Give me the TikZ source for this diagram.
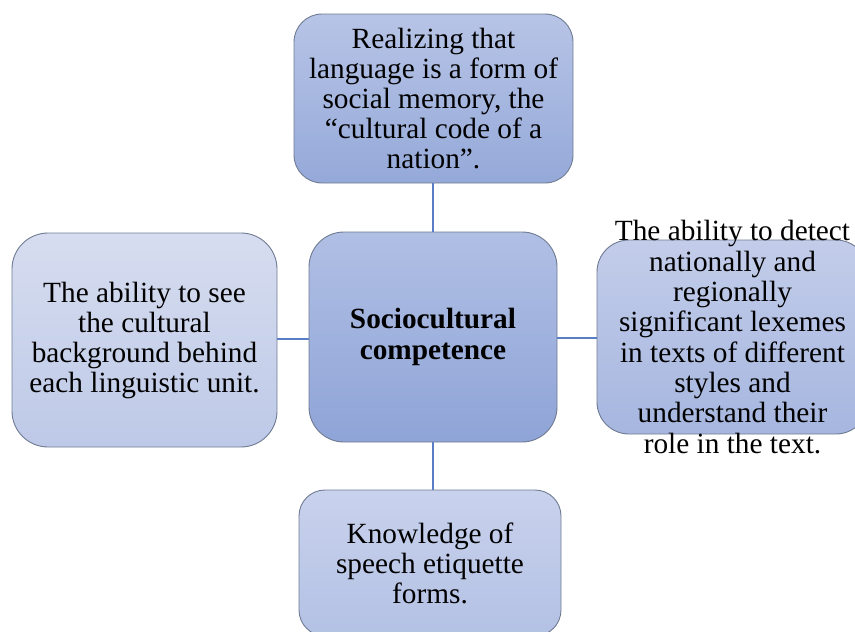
\documentclass[tikz,border=0pt]{standalone}
\usepackage{fontspec}
\setmainfont{Liberation Serif}
\definecolor{boxedge}{HTML}{6F7B92}
\definecolor{linkblue}{HTML}{5A7EC6}
\definecolor{Core1}{HTML}{B0BFE4}
\definecolor{Core2}{HTML}{8FA4D7}
\definecolor{Top1}{HTML}{B7C4E6}
\definecolor{Top2}{HTML}{95A9D9}
\definecolor{Left1}{HTML}{D7DDF0}
\definecolor{Left2}{HTML}{BDC9E7}
\definecolor{Right1}{HTML}{C3CDEA}
\definecolor{Right2}{HTML}{A6B6DF}
\definecolor{Bot1}{HTML}{C9D2ED}
\definecolor{Bot2}{HTML}{B3C1E4}
\begin{document}
\begin{tikzpicture}[x=1pt,y=-1pt,
  box/.style={draw=boxedge, line width=0.9pt, rounded corners=#1, align=center,
    inner sep=0pt, font=\fontsize{29.3}{30}\selectfont},
  label/.style={align=center, inner sep=0pt, font=\fontsize{29.3}{30.3}\selectfont},
  link/.style={draw=linkblue, line width=1.8pt}]

\useasboundingbox (0,0) rectangle (855,632);
\clip (0,0) rectangle (855,632);

% central concept
\node[box=35pt, minimum width=248pt, minimum height=210pt,
      top color=Core1, bottom color=Core2,
      font=\fontsize{29.3}{31}\selectfont\bfseries] (core) at (433,337)
  {Sociocultural\\competence};

% surrounding components
\node[box=28pt, minimum width=279pt, minimum height=169pt,
      top color=Top1, bottom color=Top2] (topc) at (433.5,98.5)
  {Realizing that\\language is a form of\\social memory, the\\“cultural code of a\\nation”.};

\node[box=36pt, minimum width=265pt, minimum height=214pt,
      top color=Left1, bottom color=Left2] (leftc) at (144.5,340)
  {The ability to see\\the cultural\\background behind\\each linguistic unit.};

\node[box=32pt, minimum width=271pt, minimum height=194pt,
      top color=Right1, bottom color=Right2] (rightc) at (732.5,337) {};
\node[label] (righttext) at (rightc.center)
  {The ability to detect\\nationally and\\regionally\\significant lexemes\\in texts of different\\styles and\\understand their\\role in the text.};

\node[box=26pt, minimum width=262pt, minimum height=146pt,
      top color=Bot1, bottom color=Bot2] (botc) at (430,563)
  {Knowledge of\\speech etiquette\\forms.};

% connectors
\draw[link] (core.north) -- (core.north |- topc.south);
\draw[link] (core.south) -- (core.south |- botc.north);
\draw[link] (core.west |- 0,339) -- (leftc.east |- 0,339);
\draw[link] (core.east |- 0,338) -- (rightc.west |- 0,338);
\end{tikzpicture}
\end{document}
